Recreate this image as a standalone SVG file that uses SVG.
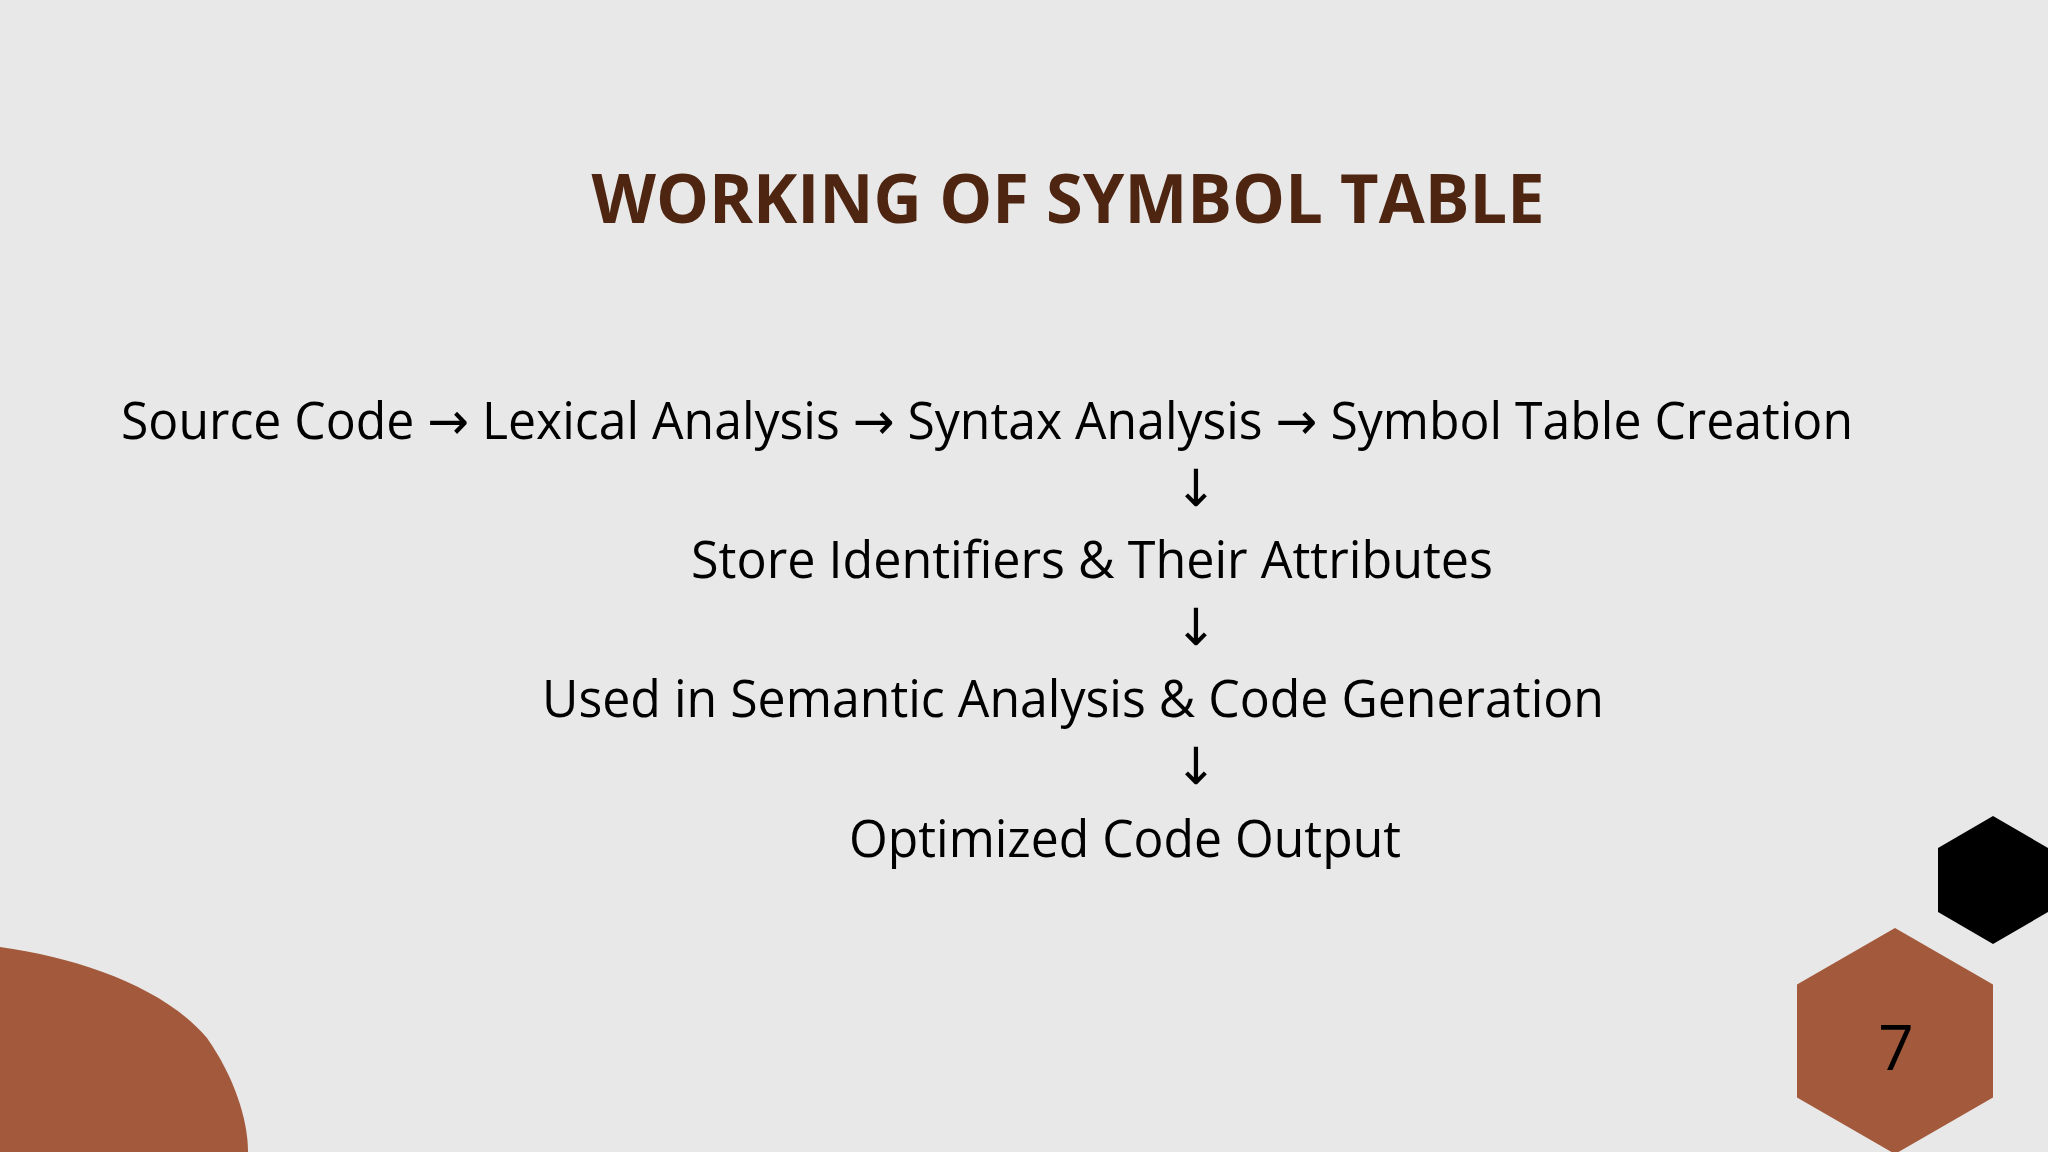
<svg xmlns="http://www.w3.org/2000/svg" width="2048" height="1152" viewBox="0 0 2048 1152">
<style>
.t{font-family:"Open Sans","Noto Sans","DejaVu Sans",sans-serif;font-size:51.5px;fill:#000}
.a{font-family:"Noto Sans","DejaVu Sans",sans-serif;font-size:51px;fill:#000}
.title{font-family:"Open Sans","Noto Sans",sans-serif;font-weight:700;font-size:68px;fill:#4E2511}
</style>
<rect width="2048" height="1152" fill="#E8E8E8"/>
<path id="blob" d="M0,947 C80,958 165,988 207,1038 C233,1075 248,1118 248,1152 L0,1152 Z" fill="#A3593B"/>
<polygon id="hex-black" points="1993,816 2048,848 2048,912 1993,944 1938,912 1938,848" fill="#000"/>
<g id="page">
<polygon points="1895,928 1993,984.5 1993,1097.5 1895,1154 1797,1097.5 1797,984.5" fill="#A3593B"/>
<text x="1896" y="1070" text-anchor="middle" class="t" style="font-size:62px">7</text>
</g>
<text id="title" x="1068" y="223" text-anchor="middle" class="title" textLength="953" lengthAdjust="spacingAndGlyphs">WORKING OF SYMBOL TABLE</text>
<g id="n1"><text x="121" y="438.5" class="t" textLength="1732" lengthAdjust="spacingAndGlyphs">Source Code → Lexical Analysis → Syntax Analysis → Symbol Table Creation</text></g>
<g id="connectors">
<text x="1196" y="506" text-anchor="middle" class="a">↓</text>
<text x="1196" y="645" text-anchor="middle" class="a">↓</text>
<text x="1196" y="784" text-anchor="middle" class="a">↓</text>
</g>
<g id="n2"><text x="691" y="578" class="t" textLength="802" lengthAdjust="spacingAndGlyphs">Store Identifiers &amp; Their Attributes</text></g>
<g id="n3"><text x="542" y="717" class="t" textLength="1062" lengthAdjust="spacingAndGlyphs">Used in Semantic Analysis &amp; Code Generation</text></g>
<g id="n4"><text x="849" y="856.5" class="t" textLength="552" lengthAdjust="spacingAndGlyphs">Optimized Code Output</text></g>
</svg>
